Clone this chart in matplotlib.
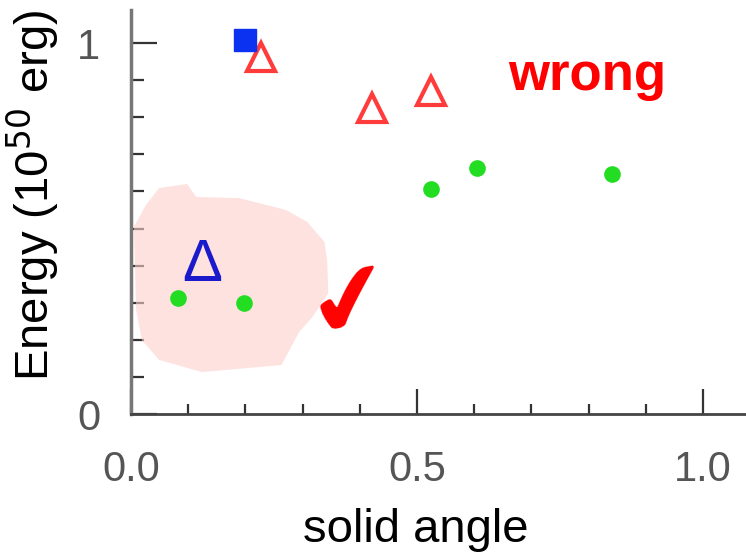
import matplotlib
matplotlib.use("Agg")
import matplotlib.pyplot as plt
from matplotlib.ticker import MultipleLocator

plt.rcParams['font.family'] = ['Liberation Sans', 'DejaVu Sans']

# ======================
# DATA
# ======================
green_x = [0.082, 0.198, 0.524, 0.605, 0.841]
green_y = [0.313, 0.299, 0.606, 0.663, 0.647]

red_tri_x = [0.227, 0.421, 0.524]
red_tri_y = [0.962, 0.825, 0.871]

blue_sq_x = [0.199]
blue_sq_y = [1.007]

# hand-drawn pink highlight around the "good" region
blob_x = [0.049, 0.098, 0.114, 0.189, 0.271, 0.308, 0.338, 0.343, 0.345, 0.329,
          0.317, 0.294, 0.263, 0.124, 0.049, 0.019, 0.009, 0.005, 0.026]
blob_y = [0.609, 0.620, 0.585, 0.582, 0.550, 0.518, 0.464, 0.415, 0.326, 0.288,
          0.261, 0.221, 0.132, 0.113, 0.146, 0.199, 0.280, 0.504, 0.563]

x_ticks = [0.0, 0.5, 1.0]
x_ticklabels = ["0.0", "0.5", "1.0"]
y_ticks = [0, 1]
y_ticklabels = ["0", "1"]

# ======================
# FIGURE
# ======================
fig = plt.figure(figsize=(7.46, 5.54), dpi=100)
ax = fig.add_axes([131 / 746, 140 / 554, 615 / 746, 404 / 554])

ax.fill(blob_x, blob_y, color='#fcd0ca', alpha=0.6, lw=0, zorder=2.6)

ax.plot(green_x, green_y, 'o', ms=12, color='#22dd22', mec='none', zorder=3)
ax.plot(red_tri_x, red_tri_y, '^', ms=20, mfc='white', mec='#ff3b3b', mew=3, zorder=3)
ax.plot(blue_sq_x, blue_sq_y, 's', ms=16, color='#0a32f0', zorder=3)

ax.text(0.124, 0.40, "Δ", color='#1a1acc', fontsize=43, ha='center', va='center', zorder=4)
ax.text(0.383, 0.295, "✔", color='red', fontsize=72, ha='center', va='center',
        rotation=12, family=['DejaVu Sans'], zorder=4)
ax.text(0.797, 0.873, "wrong", color='red', fontsize=38, fontweight='bold',
        ha='center', va='baseline', zorder=4)

ax.set_xlim(0, 615 / 572)
ax.set_ylim(0, 404 / 371)

ax.set_xticks(x_ticks)
ax.set_xticklabels(x_ticklabels)
ax.set_yticks(y_ticks)
ax.set_yticklabels(y_ticklabels)
ax.xaxis.set_minor_locator(MultipleLocator(0.1))
ax.yaxis.set_minor_locator(MultipleLocator(0.1))

ax.tick_params(axis='both', which='both', direction='in', colors='#333333',
               labelcolor='#555555', width=1.6)
ax.tick_params(axis='x', which='major', length=18, pad=26, labelsize=30)
ax.tick_params(axis='x', which='minor', length=7)
ax.tick_params(axis='y', which='major', length=19, pad=22, labelsize=30)
ax.tick_params(axis='y', which='minor', length=9)

for s in ['top', 'right']:
    ax.spines[s].set_visible(False)
ax.spines['left'].set_color('#777777')
ax.spines['left'].set_linewidth(2.5)
ax.spines['bottom'].set_color('#444444')
ax.spines['bottom'].set_linewidth(2)

ax.set_xlabel("solid angle", fontsize=34, x=0.4625, labelpad=13)
ax.set_ylabel("Energy (10$^{50}$ erg)", fontsize=34, y=0.542, labelpad=12)

fig.savefig("out.png", dpi=100)
